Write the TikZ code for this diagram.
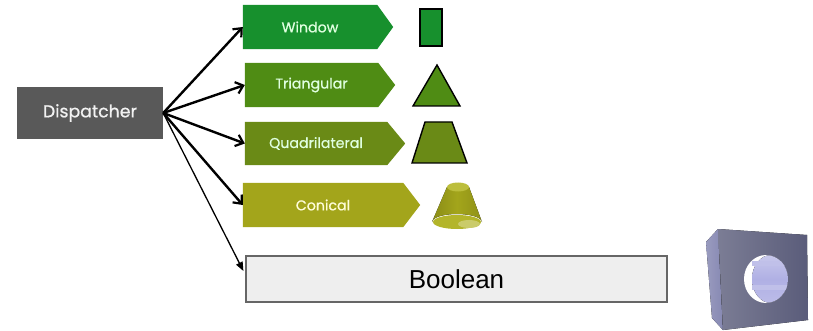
\documentclass[tikz,border=0pt]{standalone}
\usepackage{fontspec}
\setmainfont{Liberation Sans}
\newfontfamily\popfont[FakeBold=0.8]{Poppins}
\usetikzlibrary{arrows.meta,calc,backgrounds}

\definecolor{dispgray}{HTML}{595959}
\definecolor{wincol}{HTML}{17902D}
\definecolor{tricol}{HTML}{4F8C14}
\definecolor{quadcol}{HTML}{6A8A16}
\definecolor{concol}{HTML}{A3A51B}
\definecolor{contop}{HTML}{BCBE3C}
\definecolor{conbase}{HTML}{B3B52A}
\definecolor{boolfill}{HTML}{EEEEEE}
\definecolor{boolline}{HTML}{666666}
\definecolor{cubefront}{HTML}{5A5C7A}
\definecolor{cubeside}{HTML}{8789B3}
\definecolor{holecol}{HTML}{B0B0E4}

\tikzset{
  dispbox/.style={fill=dispgray, text=white!90!gray, minimum width=146pt,
    minimum height=52pt, inner sep=0pt, font=\popfont\fontsize{17.3}{20}\selectfont},
  tagbody/.style={minimum height=44pt, inner sep=0pt, text=white!88!green,
    font=\popfont\fontsize{14.2}{16}\selectfont},
  boolbox/.style={fill=boolfill, draw=boolline, line width=1.2pt,
    minimum width=421pt, minimum height=46pt, inner sep=0pt,
    font=\fontsize{26}{30}\selectfont},
  fork/.style={line width=2.4pt, -{Straight Barb[length=7pt,width=12pt,line width=2.2pt]}},
  thinfork/.style={line width=1.3pt, -{Triangle[length=9pt,width=7pt]}},
  solid shape/.style={draw=black, line width=1.4pt, line join=miter}
}

% a tag with a pointed right end, filled behind its label node
\newcommand{\tagpointer}[3]{%
  \begin{scope}[on background layer]
    \fill[#2] (#1.north west) -- (#1.north east) -- ($(#1.east)+(#3,0)$)
      -- (#1.south east) -- (#1.south west) -- cycle;
  \end{scope}}

\begin{document}
\begin{tikzpicture}[x=1pt,y=-1pt]
  \useasboundingbox (0,0) rectangle (813,331);

  % dispatcher
  \node[dispbox] (disp) at (90,113) {Dispatcher};

  % tags
  \node[tagbody, minimum width=134pt] (win)  at (310,27)    {Window};
  \node[tagbody, minimum width=133pt] (tri)  at (311.5,85)  {Triangular};
  \node[tagbody, minimum width=142pt, minimum height=43pt] (quad) at (316,143.5) {Quadrilateral};
  \node[tagbody, minimum width=160pt, text=white!85!yellow] (con)  at (323,205)   {Conical};
  \tagpointer{win}{wincol}{16}
  \tagpointer{tri}{tricol}{17}
  \tagpointer{quad}{quadcol}{18}
  \tagpointer{con}{concol}{17}

  % boolean box
  \node[boolbox] (bool) at (456.5,279) {Boolean};

  % connectors
  \draw[fork] (disp.east) -- (win.west);
  \draw[fork] (disp.east) -- (tri.west);
  \draw[fork] (disp.east) -- (quad.west);
  \draw[fork] (disp.east) -- (con.west);
  \draw[thinfork] (disp.east) -- ($(bool.west)+(-2,-8)$);

  % window solid
  \draw[solid shape, fill=wincol] (420,9) rectangle (442,46);
  % triangle solid
  \draw[solid shape, fill=tricol] (437,65) -- (460,106) -- (413,106) -- cycle;
  % trapezoid solid
  \draw[solid shape, fill=quadcol] (425,122) -- (452,122) -- (467,163) -- (412,163) -- cycle;

  % cone frustum
  \fill[left color=concol!85!black, right color=concol!88!black, middle color=concol]
    (447,187) -- (469,187) -- (482,222) arc[start angle=0, end angle=-180, x radius=25, y radius=8] -- cycle;
  \fill[conbase] (457,222) ellipse[x radius=24, y radius=7];
  \fill[conbase!70!white] (469,224) ellipse[x radius=11, y radius=4];
  \fill[contop] (458,187) ellipse[x radius=11, y radius=4.5];

  % cube with a bore
  \fill[left color=cubeside!85!white, right color=cubeside]
    (706,242) -- (718,229) -- (723,330) -- (712,318) -- cycle;
  \fill[left color=cubefront!80!white, right color=cubefront]
    (718,229) -- (807,235) -- (808,320) -- (723,330) -- cycle;
  \fill[white] (766,279) ellipse[x radius=22, y radius=24];
  \begin{scope}
    \clip (766,279) ellipse[x radius=22, y radius=24];
    \fill[top color=holecol!70!white, bottom color=holecol!85!white, middle color=holecol]
      (771,279) ellipse[x radius=19, y radius=24];
    \fill[holecol!80!white] (752,261) rectangle (790,266);
    \fill[holecol!80!white] (752,285) rectangle (790,290);
  \end{scope}
\end{tikzpicture}
\end{document}
